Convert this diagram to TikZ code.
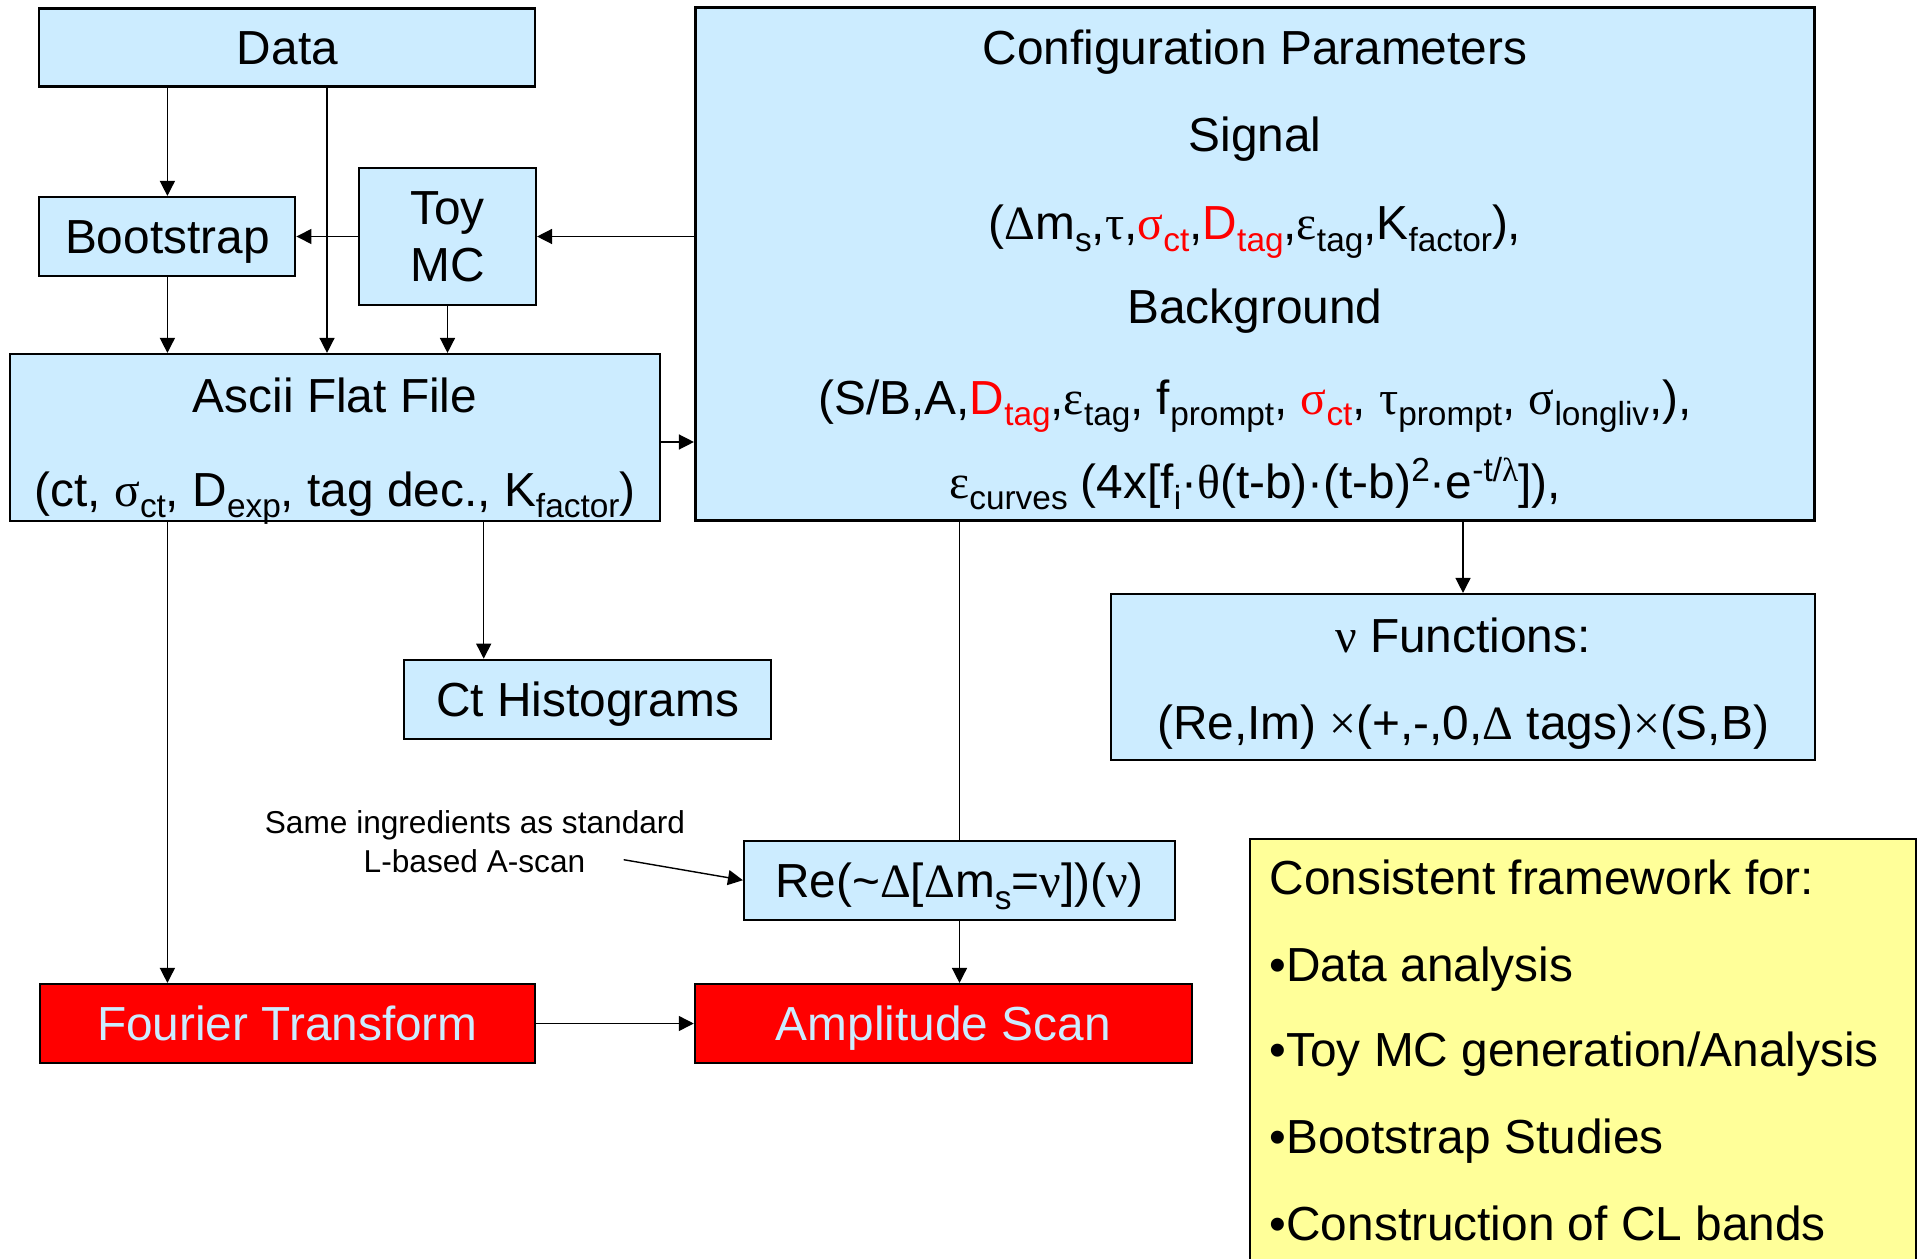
\documentclass[tikz,border=0pt]{standalone}
\usepackage{fontspec}
\setmainfont{Liberation Sans}
\newfontfamily\grkfont{Liberation Serif}
\usepackage{tikz}
\usetikzlibrary{arrows.meta}
\definecolor{paleblue}{HTML}{CCECFF}
\definecolor{paleyellow}{HTML}{FFFF99}
\newcommand{\gr}[1]{{\grkfont#1}}
\newcommand{\lo}[1]{\raisebox{-0.25em}{\fontsize{9.5}{9.5}\selectfont#1}}
\newcommand{\hi}[1]{\raisebox{0.35em}{\fontsize{9.5}{9.5}\selectfont#1}}

\begin{document}
\begin{tikzpicture}[font=\fontsize{13.6}{16.3}\selectfont,
        box/.style={draw,line width=0.6pt,fill=paleblue,inner sep=0pt},
        oneline/.style={text height=0.343cm,text depth=0pt},
        hot/.style={box,fill=red,text=paleblue},
        arr/.style={-{Triangle[length=0.15cm,width=0.15cm]},line width=0.4pt}]
        \useasboundingbox(0,0)rectangle(19.23,-12.59);
        \clip(0,0)rectangle(19.23,-12.59);
        % boxes
        \node[box,oneline,minimum width=4.96cm,minimum height=0.78cm](data)at(2.874,-0.475){Data};
        \node[box,oneline,minimum width=2.56cm,minimum height=0.79cm](boot)at(1.674,-2.365){Bootstrap};
        \node[box,align=center,minimum width=1.77cm,minimum height=1.37cm](toy)at(4.475,-2.365){Toy\\MC};
        \node[box,minimum width=6.50cm,minimum height=1.67cm](ascii)at(3.35,-4.375){};
        \node[anchor=base](asciiA)at(3.35,-4.12){Ascii Flat File};
        \node[anchor=base](asciiB)at(3.35,-5.06){(ct, \gr{σ}\lo{ct}, D\lo{exp}, tag dec., K\lo{factor})};
        \node[box,line width=0.9pt,minimum width=11.19cm,minimum height=5.13cm](cfg)at(12.55,-2.643){};
        \node[anchor=base](cfgA)at(12.55,-0.65){Configuration Parameters};
        \node[anchor=base](cfgB)at(12.55,-1.52){Signal};
        \node[anchor=base](cfgC)at(12.55,-2.40){(\gr{Δ}m\lo{s},\gr{τ},\textcolor{red}{\gr{σ}\lo{ct}},\textcolor{red}{D\lo{tag}},\gr{ε}\lo{tag},K\lo{factor}),};
        \node[anchor=base](cfgD)at(12.55,-3.24){Background};
        \node[anchor=base](cfgE)at(12.55,-4.14){(S/B,A,\textcolor{red}{D\lo{tag}},\gr{ε}\lo{tag}, f\lo{prompt}, \textcolor{red}{\gr{σ}\lo{ct}}, \gr{τ}\lo{prompt}, \gr{σ}\lo{longliv},),};
        \node[anchor=base](cfgF)at(12.55,-4.98){\gr{ε}\lo{curves} (4x[f\lo{i}·\gr{θ}(t-b)·(t-b)\hi{2}·e\hi{-t/\gr{λ}}]),};
        \node[box,minimum width=7.04cm,minimum height=1.66cm](nu)at(14.63,-6.77){};
        \node[anchor=base](nuA)at(14.63,-6.525){\gr{ν} Functions:};
        \node[anchor=base](nuB)at(14.63,-7.396){(Re,Im) \gr{×}(+,-,0,\gr{Δ} tags)\gr{×}(S,B)};
        \node[box,oneline,minimum width=3.67cm,minimum height=0.79cm](ct)at(5.877,-6.992){Ct Histograms};
        \node[box,oneline,minimum width=4.31cm,minimum height=0.79cm](re)at(9.595,-8.802){Re(\textasciitilde\gr{Δ}[\gr{Δ}m\lo{s}=\gr{ν}])(\gr{ν})};
        \node[hot,oneline,minimum width=4.95cm,minimum height=0.79cm](ft)at(2.874,-10.235){Fourier Transform};
        \node[hot,oneline,minimum width=4.97cm,minimum height=0.79cm](amp)at(9.433,-10.235){Amplitude Scan};
        % note
        \node[anchor=base,font=\fontsize{9}{11}\selectfont](noteA)at(4.75,-8.33){Same ingredients as standard};
        \node[anchor=base,font=\fontsize{9}{11}\selectfont](noteB)at(4.745,-8.72){L-based A-scan};
        \coordinate(notetail)at(6.237,-8.597);
        % framework box
        \node[draw,line width=0.6pt,fill=paleyellow,anchor=north west,minimum width=6.665cm,minimum height=4.6cm](frame)at(12.486,-8.38){};
        \node[anchor=base west,inner sep=0pt](frameA)at(12.69,-8.945){Consistent framework for:};
        \node[anchor=base west,inner sep=0pt](frameB)at(12.69,-9.816){•Data analysis};
        \node[anchor=base west,inner sep=0pt](frameC)at(12.69,-10.66){•Toy MC generation/Analysis};
        \node[anchor=base west,inner sep=0pt](frameD)at(12.69,-11.53){•Bootstrap Studies};
        \node[anchor=base west,inner sep=0pt](frameE)at(12.69,-12.406){•Construction of CL bands};
        % connectors
        \coordinate(colA)at(3.27,0);
        \coordinate(colB)at(4.837,0);
        \coordinate(rowA)at(0,-4.42);
        \draw[arr](data.south-|boot)--(boot.north);
        \draw[arr](data.south-|colA)--(ascii.north-|colA);
        \draw[arr](toy.west)--(boot.east);
        \draw[arr](cfg.west|-toy)--(toy.east);
        \draw[arr](boot.south)--(ascii.north-|boot);
        \draw[arr](toy.south)--(ascii.north-|toy);
        \draw[arr](ascii.east|-rowA)--(cfg.west|-rowA);
        \draw[arr](ascii.south-|boot)--(ft.north-|boot);
        \draw[arr](ascii.south-|colB)--(ct.north-|colB);
        \draw[arr](cfg.south-|nu)--(nu.north);
        \draw[line width=0.4pt](cfg.south-|re)--(re.north);
        \draw[arr](re.south)--(amp.north-|re);
        \draw[arr](ft.east)--(amp.west);
        \draw[arr](notetail)--(re.west);
    \end{tikzpicture}
\end{document}
